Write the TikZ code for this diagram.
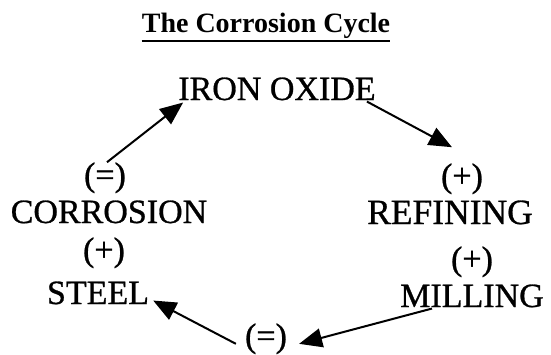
\documentclass[tikz,border=0pt]{standalone}
\usepackage{fontspec}
\setmainfont{Liberation Serif}
\newfontfamily\lblfont[FakeBold=0.8]{Liberation Serif}
\usetikzlibrary{arrows.meta}
\begin{document}
\begin{tikzpicture}[x=1pt,y=-1pt,
  lbl/.style={inner sep=0pt,anchor=base,font=\lblfont\fontsize{34}{40}\selectfont},
  ttl/.style={inner sep=0pt,anchor=base,font=\fontsize{28}{32}\selectfont\bfseries},
  arr/.style={line width=2pt,-{Triangle[length=23pt,width=19pt]}}]
\useasboundingbox (0,0) rectangle (551,354);
\node[ttl] (title) at (266,32) {The Corrosion Cycle};
\draw[line width=2.8pt] ([yshift=-2.8pt]title.south west) -- ([yshift=-2.8pt]title.south east);
\node[lbl] (iron) at (277,100) {IRON OXIDE};
\node[lbl] (eqL) at (105,186) {(=)};
\node[lbl] (corr) at (109,223) {CORROSION};
\node[lbl] (plusL) at (104,261) {(+)};
\node[lbl] (steel) at (98,304) {STEEL};
\node[lbl] (plusR1) at (462,187) {(+)};
\node[lbl, font=\lblfont\fontsize{35.5}{40}\selectfont] (refin) at (450,224) {REFINING};
\node[lbl] (plusR2) at (472,270) {(+)};
\node[lbl] (mill) at (472,307) {MILLING};
\node[lbl] (eqB) at (266,347) {(=)};
\draw[arr] ([xshift=2pt]eqL.north) -- ([xshift=5pt,yshift=-2pt]iron.south west);
\draw[arr] ([xshift=-9pt,yshift=-1pt]iron.south east) -- ([xshift=-10pt,yshift=16pt]plusR1.north);
\draw[arr] ([xshift=-40pt,yshift=-1pt]mill.south) -- ([xshift=12pt,yshift=-5pt]eqB.east);
\draw[arr] ([xshift=-9pt,yshift=-5pt]eqB.west) -- ([xshift=4pt,yshift=4pt]steel.south east);
\end{tikzpicture}
\end{document}
